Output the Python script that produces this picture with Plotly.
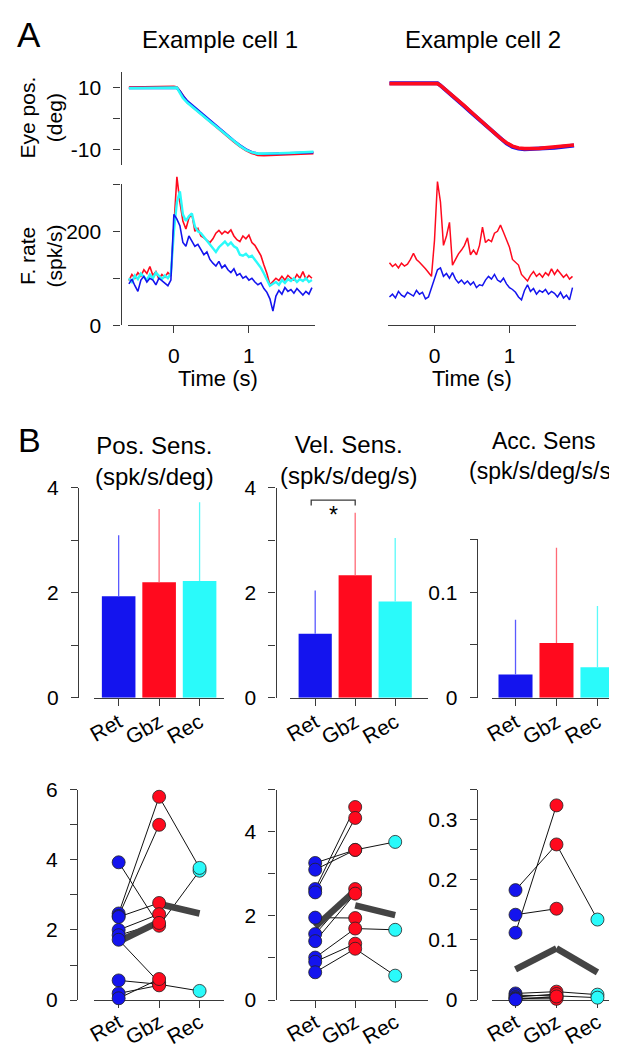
import plotly.graph_objects as go

W, H = 617, 1050
def fx(px): return px / W
def fy(py): return 1 - py / H

FONT = "Liberation Sans, Arial, Helvetica, sans-serif"
BLUE = "#1414EE"
RED = "#FF0A1E"
CYAN = "#2AFAFA"
BLUE_E = "#5A5AFF"
RED_E = "#FF6A76"
CYAN_E = "#5AFAFA"
AX = "#3a3a3a"
MEAN_C = "#444444"

# ---------------- Panel A data ----------------
t_eye = [-0.60, -0.30, 0.00, 0.04, 0.08, 0.12, 0.18, 0.30, 0.40, 0.50, 0.60,
         0.70, 0.80, 0.88, 0.96, 1.04, 1.12, 1.20, 1.40, 1.60, 1.86]
eye_c1_blue = [9.8, 9.9, 9.9, 9.8, 8.7, 7.2, 5.5, 3.0, 0.9, -1.1, -3.1,
               -5.2, -7.2, -8.7, -10.0, -10.9, -11.4, -11.5, -11.4, -11.3, -11.0]
eye_c1_red = [9.9, 10.1, 10.2, 10.0, 8.6, 7.0, 5.2, 2.8, 0.7, -1.3, -3.3,
              -5.4, -7.5, -9.0, -10.3, -11.2, -11.8, -11.9, -11.7, -11.5, -11.3]
eye_c1_cyan = [9.7, 9.8, 9.9, 9.9, 8.2, 6.6, 5.0, 2.7, 0.6, -1.4, -3.4,
               -5.4, -7.4, -8.9, -10.2, -11.0, -11.4, -11.4, -11.3, -11.1, -10.8]
eye_c2_blue = [11.3, 11.4, 11.5, 11.3, 10.6, 9.8, 8.5, 6.0, 3.8, 1.6, -0.6,
               -2.8, -5.0, -6.7, -8.1, -9.2, -9.8, -10.0, -9.9, -9.5, -8.8]
eye_c2_red = [11.2, 11.3, 11.4, 11.2, 10.6, 9.8, 8.6, 6.2, 4.0, 1.8, -0.4,
              -2.6, -4.8, -6.5, -7.9, -9.0, -9.6, -9.8, -9.7, -9.3, -8.6]

t_fr = [-0.60, -0.56, -0.52, -0.48, -0.44, -0.40, -0.36, -0.32, -0.28, -0.24,
        -0.20, -0.16, -0.12, -0.08, -0.04, 0.00, 0.04, 0.08, 0.12, 0.16,
        0.20, 0.24, 0.28, 0.32, 0.36, 0.40, 0.44, 0.48, 0.52, 0.56,
        0.60, 0.64, 0.68, 0.72, 0.76, 0.80, 0.84, 0.88, 0.92, 0.96,
        1.00, 1.04, 1.08, 1.12, 1.16, 1.20, 1.24, 1.28, 1.32, 1.36,
        1.40, 1.44, 1.48, 1.52, 1.56, 1.60, 1.64, 1.68, 1.72, 1.76,
        1.80, 1.84]
fr_c1_red = [95, 108, 100, 112, 104, 118, 110, 125, 106, 114,
             98, 108, 102, 112, 105, 215, 316, 262, 222, 205,
             228, 236, 200, 206, 190, 186, 180, 176, 184, 196,
             202, 194, 200, 196, 203, 190, 182, 178, 190, 184,
             192, 176, 170, 158, 148, 128, 110, 86, 92, 100,
             95, 104, 96, 106, 100, 96, 108, 100, 114, 98,
             106, 100]
fr_c1_cyan = [100, 92, 106, 98, 110, 102, 96, 108, 100, 112,
              104, 98, 106, 100, 110, 200, 262, 285, 236, 222,
              232, 238, 210, 200, 196, 188, 178, 170, 162, 156,
              166, 172, 178, 170, 176, 168, 164, 150, 148, 152,
              145, 148, 140, 130, 122, 110, 96, 84, 88, 92,
              86, 96, 90, 98, 94, 100, 92, 98, 94, 100,
              92, 96]
fr_c1_blue = [88, 98, 84, 72, 96, 104, 92, 100, 96, 86,
              100, 94, 90, 84, 96, 236, 226, 212, 176, 168,
              190, 180, 168, 172, 160, 150, 156, 140, 132, 126,
              136, 122, 128, 118, 112, 120, 106, 110, 100, 104,
              96, 100, 92, 86, 90, 78, 70, 56, 30, 62,
              74, 66, 80, 72, 76, 68, 78, 70, 64, 72,
              66, 80]
fr_c2_red = [133, 125, 130, 122, 132, 126, 130, 140, 153, 140,
             134, 128, 120, 112, 104, 180, 306, 262, 170, 190,
             219, 128, 140, 152, 160, 170, 186, 150, 160, 150,
             170, 209, 176, 182, 178, 196, 200, 213, 198, 180,
             166, 140, 135, 128, 108, 100, 94, 106, 114, 104,
             110, 102, 112, 106, 120, 108, 118, 110, 102, 108,
             98, 104]
fr_c2_blue = [60, 66, 58, 72, 64, 60, 70, 66, 62, 74,
              66, 70, 56, 60, 80, 96, 118, 122, 104, 110,
              100, 112, 98, 90, 96, 88, 94, 86, 92, 80,
              86, 84, 96, 104, 98, 108, 96, 92, 100, 88,
              80, 76, 70, 60, 54, 74, 86, 72, 78, 66,
              74, 70, 76, 66, 72, 68, 60, 70, 58, 64,
              54, 80]

# ---------------- Panel B data ----------------
conditions = ["Ret", "Gbz", "Rec"]
pos_mean = [1.93, 2.20, 2.22]
pos_sd = [1.16, 1.39, 1.50]
vel_mean = [1.22, 2.33, 1.83]
vel_sd = [0.82, 1.19, 1.21]
acc_mean = [0.022, 0.052, 0.029]
acc_sd = [0.052, 0.090, 0.058]

pos_ret = [3.93, 2.47, 2.40, 2.37, 2.00, 1.85, 1.72, 0.56, 0.19, 0.05]
pos_gbz = [2.12, 5.80, 5.00, 2.77, 2.45, 2.20, 0.50, 0.45, 0.42, 0.60]
pos_rec = [3.69, 3.77, None, None, None, None, None, 0.26, None, None]
pos_avg_ret_gbz = [1.67, 2.23]
pos_avg_gbz_rec = [2.74, 2.47]

vel_ret = [3.26, 3.10, 2.64, 2.56, 1.96, 1.57, 1.40, 1.01, 0.91, 0.66]
vel_gbz = [3.57, 3.57, 4.59, 4.33, 1.95, 2.64, 2.53, 1.70, 1.34, 1.22]
vel_rec = [3.76, None, None, None, None, None, None, 1.67, None, 0.58]
vel_avg_ret_gbz = [1.74, 2.60]
vel_avg_gbz_rec = [2.25, 2.02]

acc_ret = [0.183, 0.142, 0.112, 0.011, 0.008, 0.005, 0.003, 0.002, 0.001]
acc_gbz = [0.259, 0.152, 0.324, 0.014, 0.007, 0.010, 0.004, 0.002, 0.006]
acc_rec = [0.134, None, None, 0.009, 0.004, None, None, None, None]
acc_avg_ret_gbz = [0.051, 0.086]
acc_avg_gbz_rec = [0.086, 0.046]

sig_pair = ("Ret", "Gbz")

# ---------------- figure ----------------
fig = go.Figure()
layout = dict(width=W, height=H, margin=dict(l=0, r=0, t=0, b=0),
              paper_bgcolor="white", plot_bgcolor="rgba(0,0,0,0)",
              showlegend=False, font=dict(family=FONT, size=20, color="black"))

TICKFONT = dict(family=FONT, size=21, color="black")

def xax(dom, rng, anchor, visible=True, tickvals=None, ticktext=None, angle=0, standoff=0, layer="above traces"):
    d = dict(domain=[fx(dom[0]), fx(dom[1])], range=rng, anchor=anchor,
             showgrid=False, zeroline=False, fixedrange=True)
    if visible:
        d.update(showline=True, linecolor=AX, linewidth=1.4, ticks="outside",
                 ticklen=7, tickwidth=1.4, tickcolor=AX, tickvals=tickvals,
                 ticktext=ticktext, tickangle=angle, tickfont=TICKFONT,
                 ticklabelstandoff=standoff, layer=layer)
    else:
        d.update(visible=False)
    return d

def yax(dom, rng, position=None, visible=True, tickvals=None, ticktext=None, standoff=8, layer="above traces"):
    d = dict(domain=[fy(dom[1]), fy(dom[0])], range=rng,
             showgrid=False, zeroline=False, fixedrange=True)
    if position is not None:
        d.update(anchor="free", position=fx(position))
    if visible:
        d.update(showline=True, linecolor=AX, linewidth=1.4, ticks="outside",
                 ticklen=7, tickwidth=1.4, tickcolor=AX, tickvals=tickvals,
                 ticktext=ticktext, tickfont=TICKFONT, ticklabelstandoff=standoff,
                 layer=layer)
    else:
        d.update(visible=False)
    return d

T_RANGE = [-0.618, 1.882]
# A, cell 1
layout["xaxis"] = xax([113, 303], T_RANGE, "y", visible=False)
layout["yaxis"] = yax([53, 148], [-15, 15], position=106, tickvals=[-10, 0, 10], ticktext=["-10", "", "10"])
layout["xaxis2"] = xax([113, 303], T_RANGE, "y2", tickvals=[0, 1], ticktext=["0", "1"], standoff=4)
layout["yaxis2"] = yax([150, 312], [0, 337.5], visible=False)
layout["yaxis3"] = yax([168, 312], [0, 300], position=106, tickvals=[0, 100, 200, 300], ticktext=["0", "", "200", ""])
# A, cell 2
layout["xaxis3"] = xax([377, 567], T_RANGE, "y4", visible=False)
layout["yaxis4"] = yax([53, 148], [-15, 15], visible=False)
layout["xaxis4"] = xax([377, 567], T_RANGE, "y5", tickvals=[0, 1], ticktext=["0", "1"], standoff=4)
layout["yaxis5"] = yax([150, 312], [0, 337.5], visible=False)

cat_idx = list(range(len(conditions)))
# B bars
layout["xaxis5"] = xax([79, 211], [-0.61, 2.61], "y6", tickvals=cat_idx, ticktext=conditions, angle=-30, standoff=-4)
layout["yaxis6"] = yax([478, 693], [0, 4], position=63, tickvals=[0, 1, 2, 3, 4], ticktext=["0", "", "2", "", "4"])
layout["xaxis6"] = xax([278, 417], [-0.62, 2.81], "y7", tickvals=cat_idx, ticktext=conditions, angle=-30, standoff=-4)
layout["yaxis7"] = yax([478, 693], [0, 4], position=263, tickvals=[0, 1, 2, 3, 4], ticktext=["0", "", "2", "", "4"])
layout["xaxis7"] = xax([482, 614], [-0.58, 2.6], "y8", tickvals=cat_idx, ticktext=conditions, angle=-30, standoff=-4)
layout["yaxis8"] = yax([531, 693], [0, 0.15], position=467, tickvals=[0, 0.05, 0.1, 0.15], ticktext=["0", "", "0.1", ""])
# B scatter
layout["xaxis8"] = xax([79, 211], [-0.61, 2.61], "y9", tickvals=cat_idx, ticktext=conditions, angle=-30, standoff=-6, layer="below traces")
layout["yaxis9"] = yax([787, 1002], [0, 6], position=62, tickvals=[0, 1, 2, 3, 4, 5, 6], ticktext=["0", "", "2", "", "4", "", "6"])
layout["xaxis9"] = xax([278, 417], [-0.62, 2.81], "y10", tickvals=cat_idx, ticktext=conditions, angle=-30, standoff=-6, layer="below traces")
layout["yaxis10"] = yax([787, 1002], [0, 5], position=263, tickvals=[0, 1, 2, 3, 4, 5], ticktext=["0", "", "2", "", "4", ""])
layout["xaxis10"] = xax([482, 614], [-0.58, 2.6], "y11", tickvals=cat_idx, ticktext=conditions, angle=-30, standoff=-6, layer="below traces")
layout["yaxis11"] = yax([787, 1002], [0, 0.35], position=467,
                        tickvals=[0, 0.05, 0.1, 0.15, 0.2, 0.25, 0.3, 0.35],
                        ticktext=["0", "", "0.1", "", "0.2", "", "0.3", ""])

def line(x, y, color, width, xa, ya):
    fig.add_trace(go.Scatter(x=x, y=y, mode="lines", line=dict(color=color, width=width),
                             xaxis=xa, yaxis=ya, hoverinfo="skip"))

# eye traces
line(t_eye, eye_c1_red, RED, 2.6, "x", "y")
line(t_eye, eye_c1_blue, BLUE, 2.4, "x", "y")
line(t_eye, eye_c1_cyan, CYAN, 2.6, "x", "y")
line(t_eye, eye_c2_blue, BLUE, 4, "x3", "y4")
line(t_eye, eye_c2_red, RED, 3.6, "x3", "y4")
# firing rates
line(t_fr, fr_c1_red, RED, 1.6, "x2", "y2")
line(t_fr, fr_c1_cyan, CYAN, 2.4, "x2", "y2")
line(t_fr, fr_c1_blue, BLUE, 1.6, "x2", "y2")
fig.add_trace(go.Scatter(x=[None], y=[None], xaxis="x2", yaxis="y3", mode="lines", hoverinfo="skip"))
line(t_fr, fr_c2_red, RED, 1.5, "x4", "y5")
line(t_fr, fr_c2_blue, BLUE, 1.5, "x4", "y5")

# bars
bar_cols = [BLUE, RED, CYAN]
err_cols = [BLUE_E, RED_E, CYAN_E]
for means, sds, xa, ya in [(pos_mean, pos_sd, "x5", "y6"),
                           (vel_mean, vel_sd, "x6", "y7"),
                           (acc_mean, acc_sd, "x7", "y8")]:
    for i in cat_idx:
        fig.add_trace(go.Bar(x=[i], y=[means[i]], width=0.83, marker=dict(color=bar_cols[i], line=dict(width=0)),
                             error_y=dict(type="data", symmetric=False, array=[sds[i]], arrayminus=[0],
                                          width=0, thickness=1.3, color=err_cols[i]),
                             xaxis=xa, yaxis=ya, hoverinfo="skip"))

# significance bracket (Vel)
i0, i1 = conditions.index(sig_pair[0]), conditions.index(sig_pair[1])
fig.add_shape(type="path", xref="x6", yref="y7",
              path=f"M {i0-0.1},3.66 L {i0-0.1},3.76 L {i1},3.76 L {i1},3.66",
              line=dict(color=AX, width=1.3))
fig.add_annotation(x=(i0 - 0.1 + i1) / 2, y=3.47, xref="x6", yref="y7", text="*", showarrow=False,
                   font=dict(family=FONT, size=23, color="black"), xanchor="center", yanchor="middle")

def cell_lines(ret, gbz, rec):
    xs, ys = [], []
    for r, g, c in zip(ret, gbz, rec):
        xs += [0, 1]; ys += [r, g]
        if c is not None:
            xs += [2]; ys += [c]
        xs += [None]; ys += [None]
    return xs, ys

for ret, gbz, rec, m1, m2, xa, ya in [
        (pos_ret, pos_gbz, pos_rec, pos_avg_ret_gbz, pos_avg_gbz_rec, "x8", "y9"),
        (vel_ret, vel_gbz, vel_rec, vel_avg_ret_gbz, vel_avg_gbz_rec, "x9", "y10"),
        (acc_ret, acc_gbz, acc_rec, acc_avg_ret_gbz, acc_avg_gbz_rec, "x10", "y11")]:
    xs, ys = cell_lines(ret, gbz, rec)
    fig.add_trace(go.Scatter(x=xs, y=ys, mode="lines", line=dict(color="#111111", width=1),
                             xaxis=xa, yaxis=ya, hoverinfo="skip", connectgaps=False, cliponaxis=False))
    fig.add_trace(go.Scatter(x=[0, 1], y=m1, mode="lines", line=dict(color=MEAN_C, width=6.5),
                             xaxis=xa, yaxis=ya, hoverinfo="skip", cliponaxis=False))
    fig.add_trace(go.Scatter(x=[1, 2], y=m2, mode="lines", line=dict(color=MEAN_C, width=6.5),
                             xaxis=xa, yaxis=ya, hoverinfo="skip", cliponaxis=False))
    rec_vals = [v for v in rec if v is not None]
    for xi, vals, col in [(0, ret, BLUE), (1, gbz, RED), (2, rec_vals, CYAN)]:
        fig.add_trace(go.Scatter(x=[xi] * len(vals), y=vals, mode="markers",
                                 marker=dict(size=13, color=col, line=dict(color="#222222", width=0.8)),
                                 xaxis=xa, yaxis=ya, hoverinfo="skip", cliponaxis=False))

def ann(text, px, py, size, angle=0, anchor="center"):
    fig.add_annotation(x=fx(px), y=fy(py), xref="paper", yref="paper", text=text, showarrow=False,
                       font=dict(family=FONT, size=size, color="black"), textangle=angle,
                       xanchor=anchor, yanchor="middle", align="center")

ann("A", 13, 15, 35)
ann("B", 14, 429, 34)
ann("Example cell 1", 207, 20, 24)
ann("Example cell 2", 473, 20, 24)
ann("Eye pos.<br>(deg)", 25, 100, 21, angle=-90)
ann("F. rate<br>(spk/s)", 25, 241, 21, angle=-90)
ann("Time (s)", 205, 367, 22)
ann("Time (s)", 462, 367, 22)
ann("Pos. Sens.<br>(spk/s/deg)", 140, 451, 24)
ann("Vel. Sens.<br>(spk/s/deg/s)", 337, 450, 24)
ann("Acc. Sens<br>(spk/s/deg/s/s)", 613, 446, 23, anchor="right")

fig.update_layout(**layout)
fig.write_html("out.html")
